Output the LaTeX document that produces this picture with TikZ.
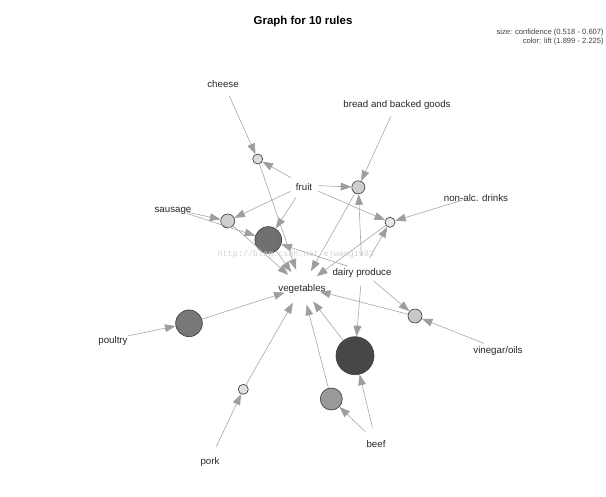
\documentclass[tikz,border=0pt]{standalone}
\usepackage{fontspec}
\setmainfont{Liberation Sans}
\newfontfamily\markfont{Liberation Mono}
\usetikzlibrary{arrows.meta}

\begin{document}
\begin{tikzpicture}[x=0.75pt,y=-0.75pt,
  txt/.style={font=\fontsize{7.3}{8.5}\selectfont,text=black!85,yshift=-1.2pt},
  item/.style={circle,inner sep=0pt,minimum size=22pt,label={[txt]center:#1}},
  rulenode/.style={circle,draw=black!75,line width=0.5pt,inner sep=0pt,minimum size=#1},
  link/.style={draw=black!35,line width=0.45pt,-{Triangle[length=8pt,width=5.8pt,color=black!38]}}]
\useasboundingbox (0,0) rectangle (606,496);
\node[font=\bfseries\fontsize{8.6}{10}\selectfont] (title) at (303,22) {Graph for 10 rules};
\node[anchor=north east,align=right,inner sep=0pt,font=\fontsize{5.7}{6.8}\selectfont,text=black!75] (legend) at (604,29) {size: confidence (0.518 - 0.607)\\color: lift (1.899 - 2.225)};
\node[item=cheese] (cheese) at (223,82) {};
\node[item=bread and backed goods] (bread) at (397,103) {};
\node[item=fruit] (fruit) at (304,185) {};
\node[item=non-alc. drinks] (drinks) at (476,196) {};
\node[item=sausage] (sausage) at (173,209) {};
\node[item=dairy produce] (dairy) at (362,271) {};
\node[item=vegetables,minimum size=27pt] (veg) at (302,287) {};
\node[item=poultry] (poultry) at (113,339) {};
\node[item=vinegar/oils] (vinegar) at (498,349) {};
\node[item=beef] (beef) at (376,442) {};
\node[item=pork] (pork) at (210,460) {};
\node[rulenode=7.5pt,fill=black!14] (r1) at (257.7,159) {};
\node[rulenode=9.75pt,fill=black!19] (r2) at (358.3,187.3) {};
\node[rulenode=7.5pt,fill=black!9] (r3) at (390,222.3) {};
\node[rulenode=10.5pt,fill=black!19] (r4) at (227.7,221) {};
\node[rulenode=20pt,fill=black!56] (r5) at (268.3,240) {};
\node[rulenode=20pt,fill=black!53] (r6) at (189,323.3) {};
\node[rulenode=28.5pt,fill=black!72] (r7) at (355,355.7) {};
\node[rulenode=10.5pt,fill=black!22] (r8) at (415,316) {};
\node[rulenode=7.5pt,fill=black!12] (r9) at (243.3,389.3) {};
\node[rulenode=16.5pt,fill=black!40] (r10) at (331.3,399) {};
\draw[link] (cheese) -- (r1);
\draw[link] (fruit) -- (r1);
\draw[link] (bread) -- (r2);
\draw[link] (fruit) -- (r2);
\draw[link] (dairy) -- (r2);
\draw[link] (fruit) -- (r3);
\draw[link] (drinks) -- (r3);
\draw[link] (dairy) -- (r3);
\draw[link] (sausage) -- (r4);
\draw[link] (fruit) -- (r4);
\draw[link] (sausage) -- (r5);
\draw[link] (fruit) -- (r5);
\draw[link] (dairy) -- (r5);
\draw[link] (poultry) -- (r6);
\draw[link] (dairy) -- (r7);
\draw[link] (beef) -- (r7);
\draw[link] (dairy) -- (r8);
\draw[link] (vinegar) -- (r8);
\draw[link] (pork) -- (r9);
\draw[link] (beef) -- (r10);
\foreach \r in {r1,r2,r3,r4,r5,r6,r7,r8,r9,r10}
  \draw[link] (\r) -- (veg);
\node[font=\markfont\fontsize{6.3}{7}\selectfont,text=black!18] (mark) at (296,254) {http://blog.csdn.net/ejwang1983};
\end{tikzpicture}
\end{document}
